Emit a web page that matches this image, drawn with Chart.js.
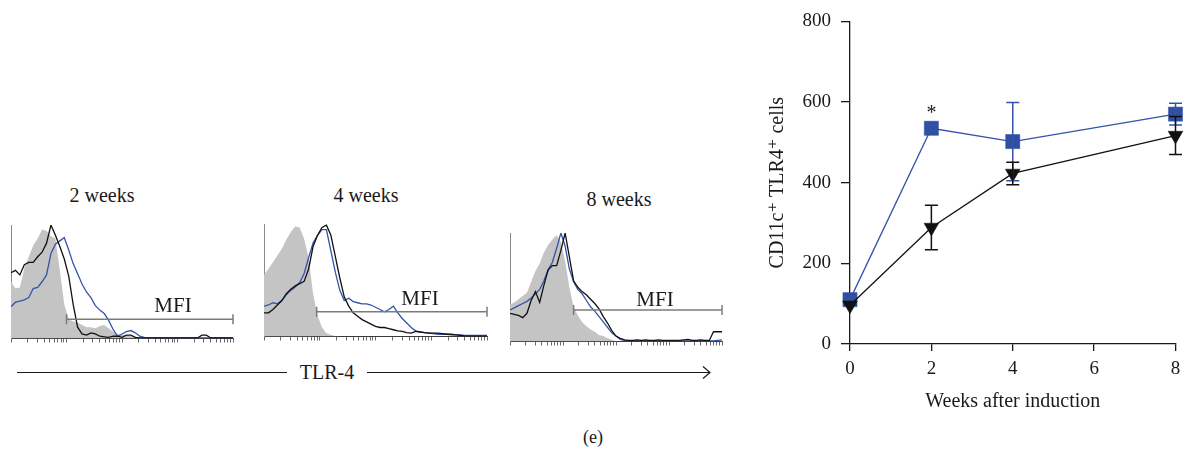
<!DOCTYPE html>
<html lang="en">
<head>
<meta charset="utf-8">
<title>TLR-4 expression on CD11c+ cells</title>
<script src="https://cdn.jsdelivr.net/npm/chart.js@4.4.1/dist/chart.umd.min.js"></script>
<style>
  html, body { margin: 0; padding: 0; background: #fff; }
  #figure { position: relative; width: 1186px; height: 451px; overflow: hidden;
            font-family: "Liberation Serif", "DejaVu Serif", serif; color: #1a1a1a; }
  #figure canvas { position: absolute; }
  #figure svg { position: absolute; left: 0; top: 0; }
  .label { position: absolute; transform: translate(-50%, -50%); white-space: nowrap; line-height: 1; }
  .panel-title { font-size: 20px; }
  .gate-name { font-size: 21px; }
  .axis-name { font-size: 20px; }
  .caption { font-size: 18px; }
</style>
</head>
<body>
<div id="figure">
  <svg width="1186" height="451">
    <line x1="17" y1="372.5" x2="287" y2="372.5" stroke="#1a1a1a" stroke-width="1.2"/>
    <line x1="367" y1="372.5" x2="710" y2="372.5" stroke="#1a1a1a" stroke-width="1.2"/>
    <polyline points="703,366.5 710,372.5 703,378.5" fill="none" stroke="#1a1a1a" stroke-width="1.2"/>
  </svg>

  <canvas id="hist2wk" width="242" height="130" style="left:1px;top:215px"></canvas>
  <canvas id="hist4wk" width="243" height="129" style="left:254px;top:214px"></canvas>
  <canvas id="hist8wk" width="232" height="125" style="left:500px;top:223px"></canvas>
  <canvas id="summary" width="436" height="420" style="left:750px;top:0px"></canvas>

  <div class="label panel-title" style="left:102px;top:195px">2 weeks</div>
  <div class="label panel-title" style="left:366px;top:195px">4 weeks</div>
  <div class="label panel-title" style="left:619px;top:199px">8 weeks</div>

  <div class="label gate-name" style="left:173px;top:305px">MFI</div>
  <div class="label gate-name" style="left:420px;top:298px">MFI</div>
  <div class="label gate-name" style="left:655px;top:299px">MFI</div>

  <div class="label axis-name" style="left:327px;top:372px">TLR-4</div>
  <div class="label caption" style="left:593px;top:437px">(e)</div>
</div>

<script>
// ---- Histogram data: fluorescence channel (% of display range) and event counts (% of mode) ----
const channel = [0, 2, 4, 6, 8, 10, 12, 14, 16, 18, 20, 22, 24, 26, 28, 30, 32, 34, 36, 38, 40,
                 42, 44, 46, 48, 50, 52, 54, 56, 58, 60, 62, 64, 66, 68, 70, 72, 74, 76, 78, 80,
                 82, 84, 86, 88, 90, 92, 94, 96, 98, 100];

// 2 weeks
const isotype2wk  = [50, 44, 45, 62, 72, 82, 88, 96, 95, 90, 88, 60, 30, 17, 15, 14, 12, 10, 10, 9, 11,
                     12, 9, 6, 4, 3, 3, 2, 1.5, 1, 0.5, 0.5, 0, 0, 0, 0, 0, 0, 0, 0, 0,
                     0, 0, 0, 0, 0, 0, 0, 0, 0, 0];
const triangle2wk = [58, 60, 56, 65, 67, 67, 72, 76, 84, 100, 91, 81, 70, 55, 30, 10, 4, 3, 5, 4, 2,
                     1.5, 1, 2, 2, 1, 3, 3, 1, 0.5, 0.5, 0.5, 0.5, 0.5, 0.5, 0.5, 0.5, 0.5, 0.5, 0.5, 0.5,
                     0.5, 0.5, 3, 3, 0.5, 0.5, 0.5, 0.5, 0.5, 0.5];
const square2wk   = [28, 32, 33, 34, 36, 44, 45, 50, 56, 75, 83, 86, 89, 78, 66, 57, 48, 41, 36, 29, 25,
                     22, 16, 8, 2, 4, 6, 7, 5, 2, 1, 0.5, 0.5, 0.5, 0.5, 0.5, 0.5, 0.5, 0.5, 0.5, 0.5,
                     0.5, 0.5, 0.5, 0.5, 0.5, 0.5, 0.5, 0.5, 0.5, 0.5];
const gate2wk = [25, 100];
const gateLevel2wk = 17;

// 4 weeks
const isotype4wk  = [55, 60, 66, 72, 78, 86, 93, 98, 97, 87, 70, 38, 19, 8, 3, 1.5, 0.5, 0, 0, 0, 0,
                     0, 0, 0, 0, 0, 0, 0, 0, 0, 0, 0, 0, 0, 0, 0, 0, 0, 0, 0, 0,
                     0, 0, 0, 0, 0, 0, 0, 0, 0, 0];
const triangle4wk = [21, 21, 24, 28, 32, 38, 42, 45, 47, 49, 60, 80, 90, 97, 99, 90, 71, 52, 35, 27, 21,
                     18, 15, 13, 11, 9, 8, 8, 7, 6, 5, 4.5, 3.5, 3, 4.5, 4, 3.5, 3, 3, 3, 2.5,
                     2, 2, 1.5, 1, 0.5, 0.3, 0.3, 0.3, 0.3, 0.3];
const square4wk   = [27, 28, 30, 29, 32, 37, 41, 44, 48, 56, 70, 83, 90, 95, 95, 76, 57, 41, 32, 34, 31,
                     30, 29, 29, 28, 26, 24, 22, 24, 27, 21, 16, 12, 8, 5, 4, 3.5, 3, 2.5, 2, 2,
                     2, 1.5, 1.5, 1.5, 1, 1, 1, 1, 1, 1];
const gate4wk = [23.6, 100];
const gateLevel4wk = 22;

// 8 weeks
const isotype8wk  = [34, 36, 39, 42, 45, 55, 65, 72, 82, 89, 94, 98, 92, 74, 50, 32, 24, 18, 14, 11, 9,
                     6, 5, 3, 1.5, 0.5, 0, 0, 0, 0, 0, 0, 0, 0, 0, 0, 0, 0, 0, 0, 0,
                     0, 0, 0, 0, 0, 0, 0, 0, 0, 0];
const triangle8wk = [26, 25, 24, 22, 26, 38, 46, 36, 52, 66, 70, 70, 84, 100, 78, 56, 50, 46, 43, 39, 35,
                     30, 23, 17, 10, 5, 3, 1.5, 1, 1, 1.5, 1, 1.5, 1, 1, 1.5, 1, 1, 1, 1, 1,
                     1.5, 2, 1, 1, 1.5, 1, 1, 9, 9, 9];
const square8wk   = [29, 31, 33, 35, 37, 40, 44, 48, 56, 66, 73, 86, 100, 88, 67, 55, 48, 44, 38, 32, 28,
                     23, 18, 13, 8, 5, 2, 1, 0.5, 0.5, 0.5, 0.5, 0.5, 0.5, 0.5, 0.5, 0.5, 0.5, 0.5, 0.5, 0.5,
                     0.5, 0.5, 0.5, 0.5, 0.5, 0.5, 0.5, 0.5, 1, 1.5];
const gate8wk = [30, 100];
const gateLevel8wk = 29;

// ---- Time course: CD11c+ TLR4+ cells (mean and SEM) ----
const weeks = [0, 2, 4, 8];
const squareMean = [110, 535, 502, 570];
const squareSem  = [0, 8, 97, 27];
const triangleMean = [96, 289, 423, 517];
const triangleSem  = [0, 55, 28, 47];
const significantWeeks = [2];
const weekTicks = [0, 2, 4, 6, 8];
const cellTicks = [0, 200, 400, 600, 800];

// ---- Styling ----
const SERIF = '"Liberation Serif", "DejaVu Serif", serif';
const INK = '#1a1a1a';
const BLUE_LINE = '#3454a8';
const BLUE_MARK = '#2f4fa2';
const ISO_FILL = '#c4c4c4';

const toPoints = (xs, ys) => xs.map((x, i) => ({ x, y: ys[i] }));

// Log-decade tick marks (1 … 10^4) under each histogram
const decadeTicks = [];
for (let d = 1; d < 10000; d *= 10) for (let m = 1; m < 10; m++) decadeTicks.push(m * d);
decadeTicks.push(10000);

function drawHistogram(id, isotype, triangle, square, gate, gateLevel) {
  return new Chart(document.getElementById(id), {
    type: 'line',
    data: {
      datasets: [
        { data: toPoints(channel, isotype), xAxisID: 'x', yAxisID: 'y', fill: 'origin',
          backgroundColor: ISO_FILL, borderColor: 'rgba(0,0,0,0)', borderWidth: 0,
          pointRadius: 0, tension: 0, order: 4 },
        { data: toPoints(channel, square), xAxisID: 'x', yAxisID: 'y', fill: false,
          borderColor: BLUE_LINE, borderWidth: 1.3, pointRadius: 0, tension: 0, order: 3 },
        { data: toPoints(channel, triangle), xAxisID: 'x', yAxisID: 'y', fill: false,
          borderColor: '#111', borderWidth: 1.3, pointRadius: 0, tension: 0, order: 2 },
        { data: gate.map(x => ({ x, y: gateLevel })), xAxisID: 'x', yAxisID: 'y', fill: false,
          borderColor: '#7b7b7b', borderWidth: 1.5, pointStyle: 'line', pointRotation: 90,
          pointRadius: 5, pointBorderColor: '#7b7b7b', pointBorderWidth: 1.5,
          clip: false, order: 1 }
      ]
    },
    options: {
      responsive: false,
      animation: false,
      events: [],
      layout: { padding: { left: 10, right: 10, top: 10, bottom: 0 } },
      plugins: { legend: { display: false }, tooltip: { enabled: false } },
      scales: {
        x: { type: 'linear', min: 0, max: 100, display: false },
        decades: {
          type: 'logarithmic', axis: 'x', position: 'bottom', min: 1, max: 10000,
          grid: { display: true, drawOnChartArea: false, drawTicks: true, tickLength: 4,
                  color: '#444', lineWidth: 0.8 },
          border: { display: true, color: '#3a3a3a', width: 1 },
          ticks: { display: false },
          afterBuildTicks: s => { s.ticks = decadeTicks.map(v => ({ value: v })); },
          afterFit: s => { s.height = 6; }
        },
        y: {
          type: 'linear', min: 0, max: 100, position: 'left',
          grid: { display: false },
          border: { display: true, color: '#8a8a8a', width: 1 },
          ticks: { display: false },
          afterFit: s => { s.width = 0; }
        }
      }
    }
  });
}

drawHistogram('hist2wk', isotype2wk, triangle2wk, square2wk, gate2wk, gateLevel2wk);
drawHistogram('hist4wk', isotype4wk, triangle4wk, square4wk, gate4wk, gateLevel4wk);
drawHistogram('hist8wk', isotype8wk, triangle8wk, square8wk, gate8wk, gateLevel8wk);

// Error bars (mean ± SEM) and significance marks for the time course
const errorBars = {
  id: 'errorBars',
  afterDatasetsDraw(chart) {
    const { ctx } = chart;
    const xs = chart.scales.x, ys = chart.scales.y;
    chart.data.datasets.forEach(ds => {
      if (!ds.sem) return;
      ctx.save();
      ctx.strokeStyle = ds.borderColor;
      ctx.lineWidth = 1.5;
      ds.data.forEach((p, i) => {
        const e = ds.sem[i];
        if (!e) return;
        const px = xs.getPixelForValue(p.x);
        const hi = ys.getPixelForValue(p.y + e);
        const lo = ys.getPixelForValue(p.y - e);
        ctx.beginPath();
        ctx.moveTo(px, hi); ctx.lineTo(px, lo);
        ctx.moveTo(px - 6.5, hi); ctx.lineTo(px + 6.5, hi);
        ctx.moveTo(px - 6.5, lo); ctx.lineTo(px + 6.5, lo);
        ctx.stroke();
      });
      ctx.restore();
    });
    // asterisks above the square-series points that differ significantly
    ctx.save();
    ctx.fillStyle = INK;
    ctx.font = '20px ' + SERIF;
    ctx.textAlign = 'center';
    ctx.textBaseline = 'middle';
    significantWeeks.forEach(w => {
      const i = weeks.indexOf(w);
      ctx.fillText('*', xs.getPixelForValue(w), ys.getPixelForValue(squareMean[i]) - 15);
    });
    ctx.restore();
  }
};

new Chart(document.getElementById('summary'), {
  type: 'line',
  data: {
    datasets: [
      { label: 'square', data: toPoints(weeks, squareMean), sem: squareSem,
        borderColor: BLUE_LINE, borderWidth: 1.3, tension: 0, fill: false,
        pointStyle: 'rect', pointRadius: 10, pointBackgroundColor: BLUE_MARK,
        pointBorderColor: BLUE_MARK, pointBorderWidth: 0.5, clip: false, order: 2 },
      { label: 'triangle', data: toPoints(weeks, triangleMean), sem: triangleSem,
        borderColor: '#111', borderWidth: 1.3, tension: 0, fill: false,
        pointStyle: 'triangle', pointRotation: 180, pointRadius: 8.5,
        pointBackgroundColor: '#111', pointBorderColor: '#111', pointBorderWidth: 0.5,
        clip: false, order: 1 }
    ]
  },
  options: {
    responsive: false,
    animation: false,
    events: [],
    layout: { padding: { left: 0, right: 9, top: 19, bottom: 0 } },
    plugins: { legend: { display: false }, tooltip: { enabled: false } },
    scales: {
      x: {
        type: 'linear', min: 0, max: 8,
        afterBuildTicks: s => { s.ticks = weekTicks.map(v => ({ value: v })); },
        ticks: { color: INK, font: { family: SERIF, size: 19, lineHeight: 1.6 }, padding: 3 },
        grid: { drawOnChartArea: false, tickLength: 7, color: INK, lineWidth: 1.3 },
        border: { color: INK, width: 1.3 },
        title: { display: true, text: 'Weeks after induction', color: INK,
                 font: { family: SERIF, size: 20 }, padding: { top: 0, bottom: 6 } },
        afterFit: s => { s.height = 76; }
      },
      y: {
        type: 'linear', min: 0, max: 800,
        afterBuildTicks: s => { s.ticks = cellTicks.map(v => ({ value: v })); },
        ticks: { color: INK, font: { family: SERIF, size: 19 }, padding: 10 },
        grid: { drawOnChartArea: false, tickLength: 9, color: INK, lineWidth: 1.3 },
        border: { color: INK, width: 1.3 },
        title: { display: true, text: 'CD11c\u207A TLR4\u207A cells', color: INK,
                 font: { family: SERIF, size: 20 }, padding: { top: 16, bottom: 0 } },
        afterFit: s => { s.width = 100; }
      }
    }
  },
  plugins: [errorBars]
});
</script>
</body>
</html>
